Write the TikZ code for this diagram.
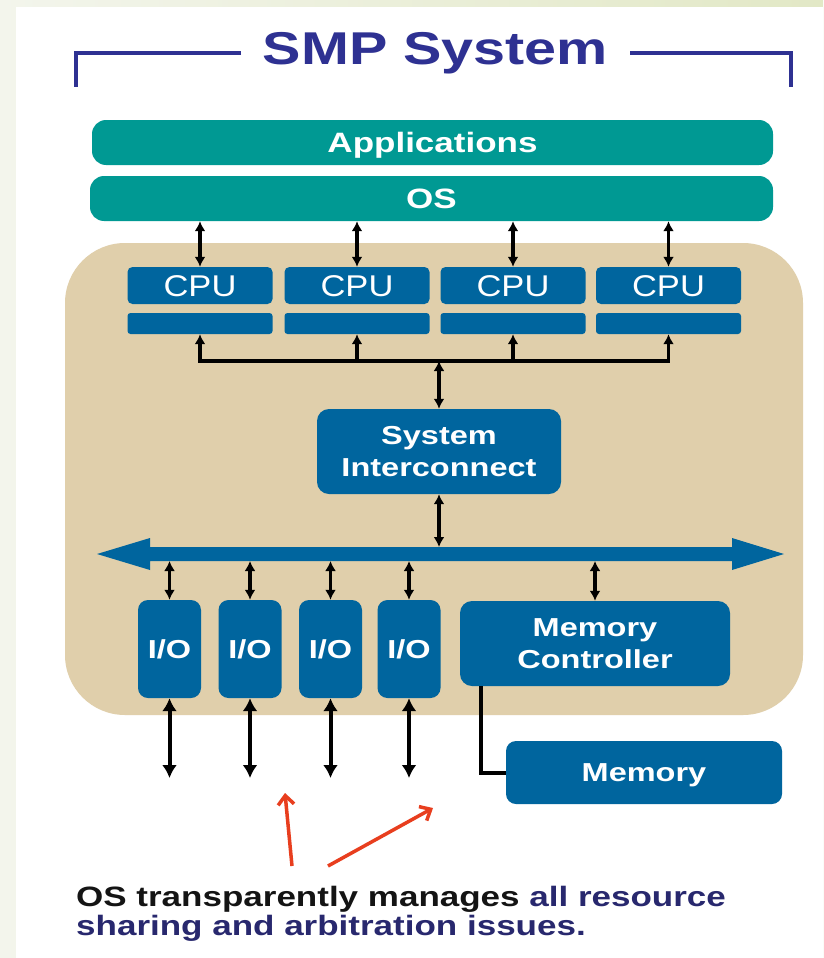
\documentclass[tikz,border=0pt]{standalone}
\usepackage{fontspec}
\newfontfamily\arx[FakeStretch=1.25]{Liberation Sans}
\newfontfamily\arc[FakeStretch=1.15]{Liberation Sans}
\usetikzlibrary{arrows.meta}
\definecolor{tealc}{RGB}{0,153,147}
\definecolor{bluec}{RGB}{0,101,158}
\definecolor{tanc}{RGB}{224,207,171}
\definecolor{indigoc}{RGB}{46,49,146}
\definecolor{navyc}{RGB}{40,40,110}
\definecolor{redc}{RGB}{232,62,30}
\definecolor{bgl}{RGB}{243,245,236}
\definecolor{bgr}{RGB}{226,232,198}
\tikzset{
 appbar/.style={fill=tealc, rounded corners=14pt, inner sep=0pt, text=white,
   font=\arx\bfseries\fontsize{28}{28}\selectfont, text height=20pt, text depth=0pt},
 cpubox/.style={fill=bluec, rounded corners=5pt, inner sep=0pt, minimum width=145pt,
   minimum height=37pt, text=white, font=\arc\fontsize{30}{30}\selectfont,
   text height=21.5pt, text depth=0pt},
 cachebar/.style={fill=bluec, rounded corners=3pt, inner sep=0pt, minimum width=145pt, minimum height=21pt},
 bbox/.style={fill=bluec, rounded corners=12pt, inner sep=0pt, text=white,
   font=\arx\bfseries\fontsize{26}{32}\selectfont, align=center},
 iobox/.style={bbox, rounded corners=10pt, minimum width=63pt, minimum height=98pt,
   text height=18.6pt, text depth=0pt},
 dbl/.style={line width=3.5pt, {Latex[length=10pt,width=11pt]}-{Latex[length=10pt,width=11pt]}},
 upa/.style={line width=3.5pt, -{Latex[length=10pt,width=11pt]}},
 dblbig/.style={line width=4pt, {Latex[length=13pt,width=15pt]}-{Latex[length=13pt,width=15pt]}},
 redarrow/.style={draw=redc, line width=3.5pt, -{Straight Barb[length=9pt,width=16pt]}},
 brk/.style={draw=indigoc, line width=4pt},
}
\begin{document}
\begin{tikzpicture}[x=1pt,y=-1pt]
\useasboundingbox (0,0) rectangle (823,958);
\shade[left color=bgl, right color=bgr] (0,0) rectangle (823,958);
\fill[white] (16,7) rectangle (823,958);

% title and bracket
\node[anchor=base, font=\arx\bfseries\fontsize{46}{46}\selectfont, text=indigoc, inner sep=0pt] (title) at (435.5,65) {SMP System};
\coordinate (tl) at (241,53);
\coordinate (bl) at (76,87);
\coordinate (tr) at (630,53);
\coordinate (br) at (791,87);
\draw[brk] (tl) -| (bl);
\draw[brk] (tr) -| (br);

% applications and OS
\node[appbar, minimum width=681pt, minimum height=45pt] (apps) at (432.5,142.5) {Applications};
\node[appbar, minimum width=683pt, minimum height=45pt] (os) at (431.5,198.5) {OS};

% tan system area
\node[fill=tanc, rounded corners=60pt, minimum width=738pt, minimum height=472pt, inner sep=0pt] (sys) at (434,479) {};

% CPUs
\foreach \i/\x in {1/200,2/357,3/513,4/668.5} {
  \node[cpubox] (cpu\i) at (\x,285.5) {CPU};
  \node[cachebar] (cache\i) at (\x,323.5) {};
  \draw[dbl] (cpu\i.north |- os.south) -- (cpu\i.north);
}

% CPU tree
\coordinate (jl) at (200,361);
\coordinate (jr) at (668.5,361);
\draw[line width=3.5pt, line cap=rect] (jl) -- (jr);
\foreach \i in {1,...,4} {
  \draw[upa] (cache\i.south |- jl) -- (cache\i.south);
}

% system interconnect
\node[bbox, minimum width=244pt, minimum height=85pt] (si) at (439,451.5) {System\\Interconnect};
\draw[dbl] (si.north |- jl) -- (si.north);

% bus
\fill[bluec] (97,554) -- (150,538) -- (150,547) -- (732,547) -- (732,538) -- (784,554)
  -- (732,570) -- (732,561) -- (150,561) -- (150,570) -- cycle;
\coordinate (bust) at (0,547);
\coordinate (busb) at (0,561);
\draw[dbl] (si.south) -- (si.south |- bust);

% I/O
\foreach \i/\x in {1/169.5,2/250,3/330.5,4/409} {
  \node[iobox] (io\i) at (\x,649) {I/O};
  \draw[dbl] (io\i.north |- busb) -- (io\i.north);
  \coordinate (ioe\i) at (\x,778);
  \draw[dblbig] (io\i.south) -- (ioe\i);
}

% memory controller and memory
\node[bbox, minimum width=270pt, minimum height=85pt] (mc) at (595,643.5) {Memory\\Controller};
\draw[dbl] (mc.north |- busb) -- (mc.north);
\node[bbox, rounded corners=10pt, minimum width=276pt, minimum height=63pt, text height=18.6pt, text depth=0pt] (mem) at (644,772.5) {Memory};
\draw[line width=4pt] ([xshift=21pt]mc.south west) |- (mem.west);

% red arrows
\coordinate (ra1) at (292,866);
\coordinate (rb1) at (285,793);
\coordinate (ra2) at (328,866);
\coordinate (rb2) at (433,808);
\draw[redarrow] (ra1) -- (rb1);
\draw[redarrow] (ra2) -- (rb2);

% caption
\node[anchor=base west, align=left, font=\arx\bfseries\fontsize{28}{29}\selectfont, text=navyc, inner sep=0pt] (cap) at (76,935)
  {{\color{black!92}OS transparently manages} all resource\\sharing and arbitration issues.};
\end{tikzpicture}
\end{document}
